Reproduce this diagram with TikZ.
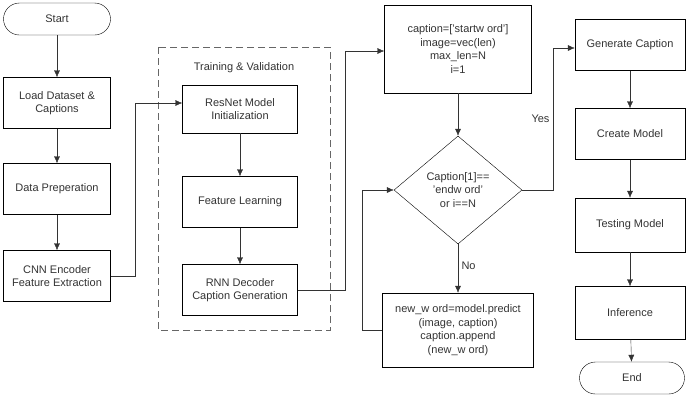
\documentclass[tikz,border=0pt]{standalone}
\usepackage{fontspec}
\setmainfont{Liberation Sans}
\usetikzlibrary{arrows.meta,shapes.geometric}
\begin{document}
\begin{tikzpicture}[
                x = 1pt, y = -1pt,
                every node/.style = {font=\fontsize{11}{13.5}\selectfont, text=black!80},
                term/.style = {draw, rounded corners=16pt, minimum width=107pt, minimum height=32pt},
                proc/.style = {draw, align=center, minimum width=107pt, minimum height=51pt},
                dec/.style = {draw, diamond, aspect=1.2, align=center, minimum width=128pt, minimum height=108pt, inner sep=0pt},
                arr/.style = {draw, black!80, -{Latex[length=7pt,width=6pt]}},
            ]
            \useasboundingbox (0,0) rectangle (700,413);
            \node (start) [term] at (57,19){Start};
            \node (load) [proc] at (57,103){Load Dataset \&\\Captions};
            \node (prep) [proc] at (57,189){Data Preperation};
            \node (cnn) [proc] at (57,276){CNN Encoder\\Feature Extraction};

            \draw[dashed, black!60, dash pattern=on 7pt off 4pt] (158,47) rectangle (330,330);
            \node (tv) at (244,68){Training \& Validation};
            \node (resnet) [proc, minimum width=115pt, minimum height=48pt] at (240,109){ResNet Model\\Initialization};
            \node (feat) [proc, minimum width=115pt] at (240,202){Feature Learning};
            \node (rnn) [proc, minimum width=115pt] at (240,290){RNN Decoder\\Caption Generation};

            \node (init) [proc, minimum width=147pt, minimum height=88pt] at (458,49){caption=['startw ord']\\image=vec(len)\\max\_len=N\\i=1};
            \node (cond) [dec] at (458,190){Caption[1]==\\'endw ord'\\or i==N};
            \node (pred) [proc, minimum width=151pt, minimum height=74pt] at (458,330){new\_w ord=model.predict\\(image, caption)\\caption.append\\(new\_w ord)};

            \node (gen) [proc, minimum width=110pt] at (630,45){Generate Caption};
            \node (create) [proc, minimum width=110pt] at (630,134){Create Model};
            \node (test) [proc, minimum width=110pt, minimum height=54pt] at (630,225){Testing Model};
            \node (infer) [proc, minimum width=110pt, minimum height=53pt] at (630,313){Inference};
            \node (end) [term, minimum width=105pt, minimum height=32pt] at (632,378){End};

            \path[arr] (start) -- (load);
            \path[arr] (load) -- (prep);
            \path[arr] (prep) -- (cnn);
            \path[arr] (cnn.east) -- (135,276) |- ([yshift=6pt]resnet.west);
            \path[arr] (resnet) -- (feat);
            \path[arr] (feat) -- (rnn);
            \path[arr] (rnn.east) -- (345,290) |- ([yshift=-2pt]init.west);
            \path[arr] (init) -- (cond);
            \path[arr] (cond.east) -- (553,190) |- node[pos=0.25, left]{Yes} ([yshift=-3pt]gen.west);
            \path[arr] (cond.south) -- node[pos=0.45, right]{No} (pred.north);
            \path[arr] (pred.west) -- (362,330) |- (cond.west);
            \path[arr] (gen) -- (create);
            \path[arr] (create) -- (test);
            \path[arr] (test) -- (infer);
            \path[arr] (infer) -- (end);
        \end{tikzpicture}
\end{document}
